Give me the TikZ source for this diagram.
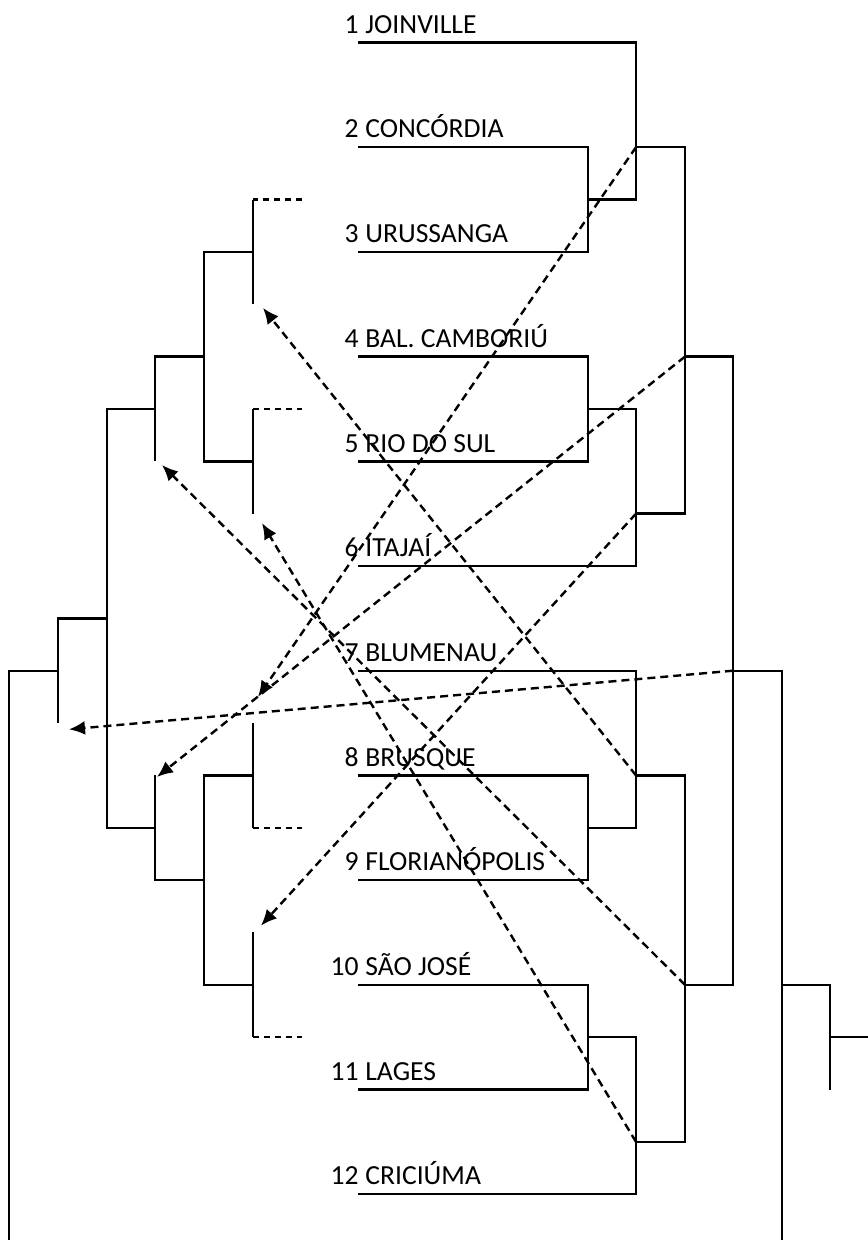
\documentclass[tikz,border=0pt]{standalone}
\usepackage{fontspec}
\setmainfont{Carlito}
\usetikzlibrary{arrows.meta}
\tikzset{
  team/.style={font=\fontsize{13.8}{16}\selectfont, inner sep=0pt, anchor=base west},
  seed/.style={font=\fontsize{13.8}{16}\selectfont, inner sep=0pt, anchor=base east},
  bracket/.style={line width=1.2pt},
  stub/.style={line width=1.2pt, dash pattern=on 3pt off 2.5pt},
  jump/.style={line width=1.2pt, dash pattern=on 4pt off 2.5pt, -{Latex[length=8pt,width=7pt]}},
}

\begin{document}
\begin{tikzpicture}[x=0.5pt,y=-26.175pt]
  \useasboundingbox (0,1.188) rectangle (868,24.875);

  % teams
  \foreach \i/\name in {1/JOINVILLE,2/CONCÓRDIA,3/URUSSANGA,4/BAL. CAMBORIÚ,
      5/RIO DO SUL,6/ITAJAÍ,7/BLUMENAU,8/BRUSQUE,9/FLORIANÓPOLIS,
      10/SÃO JOSÉ,11/LAGES,12/CRICIÚMA}{
    \coordinate (r\i) at (358,2*\i);
    \node[seed] (n\i) at (359,2*\i-0.176) {\i};
    \node[team] (t\i) at (365,2*\i-0.176) {\name};
  }

  % right bracket
  \draw[bracket] (r1) -| (636,5) -- (588,5);
  \draw[bracket] (r2) -| (588,6) -- (r3);
  \draw[bracket] (636,4) -| (685,11) -- (636,11);
  \draw[bracket] (r4) -| (588,10) -- (r5);
  \draw[bracket] (588,9) -| (636,12) -- (r6);
  \draw[bracket] (685,8) -| (733,20) -- (685,20);
  \draw[bracket] (r7) -| (636,17) -- (588,17);
  \draw[bracket] (r8) -| (588,18) -- (r9);
  \draw[bracket] (636,16) -| (685,23) -- (636,23);
  \draw[bracket] (r10) -| (588,22) -- (r11);
  \draw[bracket] (588,21) -| (636,24) -- (r12);
  \draw[bracket] (733,14) -| (782,24.875);
  \draw[bracket] (782,20) -| (830,22);
  \draw[bracket] (830,21) -- (868,21);

  % left bracket
  \draw[stub] (302,5) -- (253,5);
  \draw[bracket] (253,5) -- (253,7);
  \draw[bracket] (253,6) -| (204,10) -- (253,10);
  \draw[bracket] (253,9) -- (253,11);
  \draw[stub] (253,9) -- (302,9);
  \draw[bracket] (204,8) -| (155,10);
  \draw[bracket] (155,9) -| (107,17) -- (155,17);
  \draw[bracket] (155,16) -- (155,18) -- (204,18);
  \draw[bracket] (253,16) -| (204,20) -- (253,20);
  \draw[bracket] (253,15) -- (253,17);
  \draw[stub] (253,17) -- (302,17);
  \draw[bracket] (253,19) -- (253,21);
  \draw[stub] (253,21) -- (302,21);
  \draw[bracket] (107,13) -| (58,15);
  \draw[bracket] (58,14) -| (9,24.875);

  % crossings
  \coordinate (q1) at (636,4);   \coordinate (a1) at (258,14.50);
  \coordinate (q2) at (685,8);   \coordinate (a2) at (157,16.03);
  \coordinate (q3) at (636,11);  \coordinate (a3) at (261,18.87);
  \coordinate (q4) at (733,14);  \coordinate (a4) at (69,15.12);
  \coordinate (q5) at (636,16);  \coordinate (a5) at (263,7.07);
  \coordinate (q6) at (685,20);  \coordinate (a6) at (162,10.07);
  \coordinate (q7) at (636,23);  \coordinate (a7) at (262,11.18);
  \foreach \k in {1,...,7}
    \draw[jump] (q\k) -- (a\k);
\end{tikzpicture}
\end{document}
